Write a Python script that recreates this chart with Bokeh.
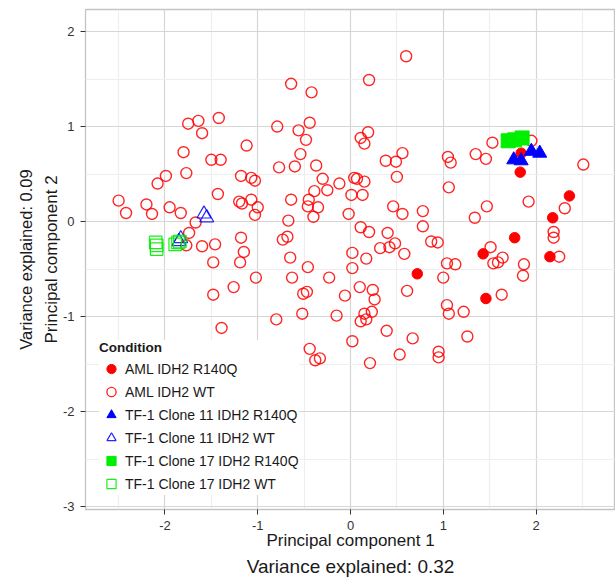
from bokeh.plotting import figure
from bokeh.models import Range1d, FixedTicker, Legend, LegendItem, Title
from bokeh.embed import file_html
from bokeh.resources import INLINE

# ---------------- data ----------------
conditions = ["AML IDH2 R140Q", "AML IDH2 WT", "TF-1 Clone 11 IDH2 R140Q",
              "TF-1 Clone 11 IDH2 WT", "TF-1 Clone 17 IDH2 R140Q", "TF-1 Clone 17 IDH2 WT"]

aml_wt_x = [0.60, 0.20, -0.64, -0.42, -1.75, -1.64, -1.42, -1.60, -0.79, -0.56,
            -0.44, -0.48, 0.11, 0.19, 0.15, -1.12, -1.80, -1.50, -1.40, -0.54,
            -0.77, -0.60, -0.37, 0.38, 0.49, 0.56, 1.05, 1.08, 1.35, 1.46,
            1.53, 1.95, 2.51, -1.99, -2.08, -1.77, -1.18, -1.07, -1.03, 0.50,
            -0.30, -0.12, 0.04, 0.07, 0.15, -1.43, -0.39, -0.25, -0.45, -0.46,
            -0.35, -0.40, 0.01, 0.13, -0.64, 1.06, -2.50, -2.42, -2.20, -2.14,
            -1.95, -1.83, -1.20, -1.17, -1.07, -1.00, -1.03, -0.67, -0.02, 0.46,
            0.56, 0.78, 1.92, 2.31, 1.47, 1.34, -1.67, -1.74, -1.77, -1.60,
            -1.46, -1.18, -1.15, -1.48, -1.19, -0.73, -0.68, 0.11, 0.20, 0.40,
            0.78, 0.87, 0.94, 2.19, 2.19, 1.51, 2.25, 0.32, 0.42, 0.48,
            0.58, 0.02, 0.17, -0.65, -1.02, -0.46, -0.63, -0.23, 0.02, 1.04,
            1.13, 1.54, 1.59, 1.64, 1.87, 1.86, 1.00, -1.48, -1.26, -0.51,
            -0.47, -0.06, 0.10, 0.24, 0.26, 0.61, 1.63, -0.80, -0.52, -0.15,
            0.15, 0.11, 0.17, 0.23, 0.39, 0.67, 0.02, -0.44, -0.38, -0.33,
            0.53, 0.21, 0.95, 0.95, 1.04, 1.06, 1.22, 1.26, -1.39]
aml_wt_y = [1.74, 1.49, 1.45, 1.36, 1.03, 1.06, 1.09, 0.93, 1.00, 0.96,
            1.04, 0.86, 0.88, 0.94, 0.82, 0.80, 0.73, 0.65, 0.65, 0.71,
            0.57, 0.58, 0.59, 0.64, 0.63, 0.72, 0.68, 0.62, 0.71, 0.66,
            0.83, 0.85, 0.60, 0.48, 0.40, 0.51, 0.48, 0.46, 0.43, 0.47,
            0.45, 0.40, 0.46, 0.45, 0.42, 0.29, 0.32, 0.33, 0.23, 0.16,
            0.15, 0.05, 0.28, 0.28, 0.23, 0.36, 0.22, 0.09, 0.18, 0.08,
            0.15, 0.09, 0.21, 0.19, 0.23, 0.15, 0.07, 0.01, 0.08, 0.16,
            0.08, 0.11, 0.21, 0.14, 0.16, 0.04, -0.01, -0.12, -0.25, -0.26,
            -0.24, -0.17, -0.32, -0.43, -0.43, -0.19, -0.16, -0.06, -0.11, -0.12,
            -0.05, -0.21, -0.22, -0.11, -0.17, -0.27, -0.37, -0.28, -0.27, -0.23,
            -0.34, -0.33, -0.39, -0.38, -0.59, -0.48, -0.59, -0.59, -0.49, -0.44,
            -0.45, -0.44, -0.43, -0.38, -0.45, -0.57, -0.59, -0.77, -0.69, -0.76,
            -0.74, -0.78, -0.69, -0.72, -0.82, -0.73, -0.77, -1.03, -0.97, -0.99,
            -0.97, -1.05, -1.03, -0.95, -1.15, -1.23, -1.26, -1.34, -1.46, -1.44,
            -1.40, -1.49, -1.37, -1.43, -0.88, -0.97, -0.95, -1.21, -1.12]

aml_mut_x = [1.84, 1.83, 2.36, 2.18, 1.77, 1.43, 2.15, 0.72, 1.46]
aml_mut_y = [0.72, 0.52, 0.27, 0.04, -0.17, -0.34, -0.37, -0.55, -0.81]

c11_mut_x = [1.76, 1.84, 1.95, 2.04]
c11_mut_y = [0.65, 0.64, 0.74, 0.72]
c11_wt_x = [-1.58, -1.55, -1.83, -1.85]
c11_wt_y = [0.08, 0.04, -0.18, -0.21]

c17_mut_x = [1.70, 1.77, 1.85]
c17_mut_y = [0.85, 0.86, 0.88]
c17_wt_x = [-2.10, -2.09, -2.09, -1.89, -1.86, -1.84]
c17_wt_y = [-0.22, -0.25, -0.29, -0.24, -0.22, -0.21]

x_ticks = [-2, -1, 0, 1, 2]
y_ticks = [-3, -2, -1, 0, 1, 2]
x_minor = [-2.5, -1.5, -0.5, 0.5, 1.5, 2.5]
y_minor = [-2.5, -1.5, -0.5, 0.5, 1.5]

FONT = "Liberation Sans"
RED, BLUE, GREEN = "#ff0000", "#0000ff", "#00ee00"

p = figure(width=615, height=578, output_backend="svg", toolbar_location=None,
           x_range=Range1d(-2.857, 2.857), y_range=Range1d(-3.031, 2.232),
           min_border_left=85, min_border_right=0, min_border_top=9, min_border_bottom=69,
           background_fill_color="white", border_fill_color="white")

p.outline_line_color = "#c4c4c4"
p.outline_line_width = 1.3

for ax, ticks, minor in ((p.xaxis, x_ticks, x_minor), (p.yaxis, y_ticks, y_minor)):
    ax.ticker = FixedTicker(ticks=ticks, minor_ticks=minor)
    ax.major_label_overrides = {t: str(t) for t in ticks}
    ax.axis_line_color = None
    ax.major_tick_line_color = "#333333"
    ax.major_tick_out = 5
    ax.major_tick_in = 0
    ax.minor_tick_line_color = None
    ax.major_label_text_font = FONT
    ax.major_label_text_font_size = "13px"
    ax.major_label_text_color = "#333333"
    ax.axis_label_text_font = FONT
    ax.axis_label_text_font_style = "normal"
    ax.axis_label_text_color = "#1a1a1a"

p.xaxis.major_label_standoff = 6
p.yaxis.major_label_standoff = 6
p.xaxis.axis_label = "Principal component 1"
p.yaxis.axis_label = "Principal component 2"
p.xaxis.axis_label_text_font_size = "17px"
p.yaxis.axis_label_text_font_size = "17px"
p.xaxis.axis_label_standoff = -2
p.yaxis.axis_label_standoff = -1

for g in (p.xgrid, p.ygrid):
    g.grid_line_color = "#d6d6d6"
    g.grid_line_width = 1.2
    g.minor_grid_line_color = "#eeeeee"
    g.minor_grid_line_width = 1.2
p.xgrid.ticker = FixedTicker(ticks=x_ticks, minor_ticks=x_minor)
p.ygrid.ticker = FixedTicker(ticks=y_ticks, minor_ticks=y_minor)

p.add_layout(Title(text="Variance explained: 0.32", align="center", text_font=FONT,
                   text_font_size="19px", text_font_style="normal",
                   text_color="#1a1a1a", standoff=2, offset=0), "below")
p.add_layout(Title(text="Variance explained: 0.09", align="center", text_font=FONT,
                   text_font_size="16.5px", text_font_style="normal",
                   text_color="#1a1a1a", standoff=8), "left")

r_wt = p.scatter(aml_wt_x, aml_wt_y, marker="circle", size=11, fill_color=None,
                 line_color=RED, line_width=1.4, line_alpha=0.85)
r_mut = p.scatter(aml_mut_x, aml_mut_y, marker="circle", size=10.5, fill_color=RED,
                  line_color=RED, line_width=1)
r_c11wt = p.scatter(c11_wt_x, c11_wt_y, marker="triangle", size=14, fill_color=None,
                    line_color=BLUE, line_width=1.2, line_alpha=0.85)
r_c11mut = p.scatter(c11_mut_x, c11_mut_y, marker="triangle", size=14, fill_color=BLUE,
                     line_color=BLUE, line_width=1)
r_c17wt = p.scatter(c17_wt_x, c17_wt_y, marker="square", size=12.5, fill_color=None,
                    line_color=GREEN, line_width=1.2, line_alpha=0.9)
r_c17mut = p.scatter(c17_mut_x, c17_mut_y, marker="square", size=14, fill_color=GREEN,
                     line_color=GREEN, line_width=1)

renderers = [r_mut, r_wt, r_c11mut, r_c11wt, r_c17mut, r_c17wt]
legend = Legend(items=[LegendItem(label=c, renderers=[r]) for c, r in zip(conditions, renderers)],
                title="Condition", location=(14, 14),
                title_text_font=FONT, title_text_font_style="bold", title_text_font_size="13.5px",
                title_text_color="#1a1a1a", title_standoff=2,
                label_text_font=FONT, label_text_font_size="14px", label_text_color="#1a1a1a",
                background_fill_color="white", background_fill_alpha=1.0,
                border_line_color=None, padding=6, margin=0,
                glyph_width=24, glyph_height=23, spacing=0, label_standoff=2,
                label_height=20)
p.add_layout(legend)

open("out.html", "w").write(file_html(p, INLINE))
